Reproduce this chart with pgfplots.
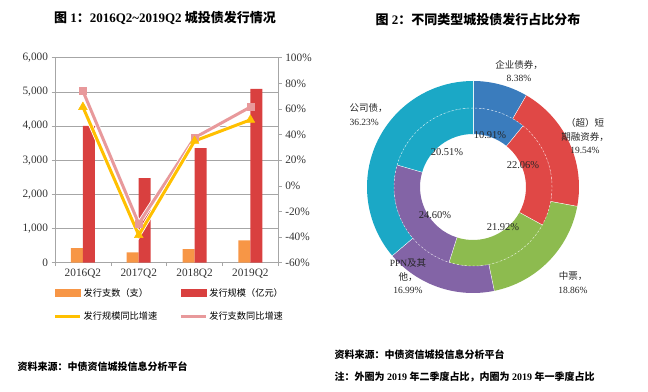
\documentclass[border=0pt]{standalone}
\usepackage{pgfplots}
\pgfplotsset{compat=1.18}
\usepackage{fontspec}
\setmainfont{Liberation Serif}
\newfontfamily\cjk{Noto Sans CJK SC}
\newcommand\zh[1]{{\cjk #1}}
\definecolor{cOrg}{HTML}{F79646}
\definecolor{cRed}{HTML}{D9403F}
\definecolor{cYel}{HTML}{FFC000}
\definecolor{cPnk}{HTML}{E8999B}
\definecolor{dBlu}{HTML}{3A7CBD}
\definecolor{dRed}{HTML}{E04846}
\definecolor{dGrn}{HTML}{8DBB4F}
\definecolor{dPur}{HTML}{8364A6}
\definecolor{dTea}{HTML}{1BA8C6}
\definecolor{axgray}{HTML}{A6A6A6}
\begin{document}
\begin{tikzpicture}[x=1pt,y=1pt]
\useasboundingbox (0pt,0pt) rectangle (648pt,391pt);
% ---------- left chart: bars ----------
\begin{axis}[
  at={(55pt,128.3pt)}, anchor=south west, scale only axis,
  width=223.3pt, height=205pt,
  xmin=-0.5, xmax=3.5, ymin=0, ymax=6000,
  ytick={0,1000,...,6000},
  xtick={-0.5,0.5,1.5,2.5,3.5}, xticklabels={},
  extra x ticks={0,1,2,3},
  extra x tick labels={2016Q2,2017Q2,2018Q2,2019Q2},
  extra x tick style={major tick length=0pt, tick label style={yshift=-3pt}},
  tick align=outside, major tick length=3.5pt,
  ymajorgrids, grid style={axgray, line width=0.6pt},
  axis line style={axgray, line width=0.6pt},
  tick style={axgray, line width=0.6pt},
  axis y line*=left, axis x line*=bottom,
  tick label style={font=\fontsize{11.3}{13}\selectfont, text=black!80},
  y tick label style={/pgf/number format/.cd, 1000 sep={,}, assume math mode=true},
  ybar, bar width=12pt,
]
\addplot[fill=cOrg, draw=none, bar shift=-6pt] coordinates {(0,425) (1,305) (2,400) (3,655)};
\addplot[fill=cRed, draw=none, bar shift=6pt] coordinates {(0,4005) (1,2477) (2,3354) (3,5088)};
\end{axis}
% ---------- left chart: growth lines ----------
\begin{axis}[
  at={(55pt,128.3pt)}, anchor=south west, scale only axis,
  width=223.3pt, height=205pt,
  xmin=-0.5, xmax=3.5, ymin=-60, ymax=100,
  ytick={-60,-40,...,100},
  axis y line*=right, axis x line=none,
  tick align=outside, major tick length=3.5pt,
  axis line style={axgray, line width=0.6pt},
  tick style={axgray, line width=0.6pt},
  tick label style={font=\fontsize{11.3}{13}\selectfont, text=black!80},
  yticklabel={\pgfmathprintnumber[assume math mode=true]{\tick}\%},
  clip=false,
  legend columns=2,
  legend style={at={(-0.02,-0.105)}, anchor=north west, draw=none, fill=none,
    font=\fontsize{9.2}{11}\selectfont, row sep=10pt,
    /tikz/every even column/.append style={column sep=20pt}},
  legend cell align=left,
]
\addlegendimage{legend image code/.code={\fill[cOrg] (0pt,-3.5pt) rectangle (25pt,3.5pt);}}
\addlegendentry{\zh{发行支数（支）}}
\addlegendimage{legend image code/.code={\fill[cRed] (0pt,-3.5pt) rectangle (25pt,3.5pt);}}
\addlegendentry{\zh{发行规模（亿元）}}
\addlegendimage{legend image code/.code={\draw[cYel, line width=3pt] (0pt,0pt) -- (25pt,0pt);}}
\addlegendentry{\zh{发行规模同比增速}}
\addlegendimage{legend image code/.code={\draw[cPnk, line width=3pt] (0pt,0pt) -- (25pt,0pt);}}
\addlegendentry{\zh{发行支数同比增速}}
% pink: 发行支数同比增速
\addplot[forget plot, white, line width=4.6pt] coordinates {(0,74) (1,-29.5) (2,37.5) (3,61.5)};
\addplot[forget plot, cPnk, line width=3pt, mark=square*, mark size=3.6pt, mark options={line width=0.5pt, draw=cPnk, fill=cPnk}]
  coordinates {(0,74) (1,-29.5) (2,37.5) (3,61.5)};
% yellow: 发行规模同比增速
\addplot[forget plot, white, line width=4.6pt] coordinates {(0,61.5) (1,-38.5) (2,35) (3,51.5)};
\addplot[forget plot, cYel, line width=3pt, mark=triangle*, mark size=5pt, mark options={line width=0.5pt, draw=cYel, fill=cYel}]
  coordinates {(0,61.5) (1,-38.5) (2,35) (3,51.5)};
\end{axis}
% ---------- right chart: double donut ----------
\begin{axis}[
  at={(473pt,204pt)}, anchor=center, scale only axis,
  width=240pt, height=240pt,
  xmin=-120, xmax=120, ymin=-120, ymax=120,
  hide axis, clip=false,
]
\pgfplotsextra{
  % outer ring: 2019Q2 (from 12 o'clock, clockwise)
  \xdef\acc{90}
  \foreach \v/\c in {8.38/dBlu,19.54/dRed,18.86/dGrn,16.99/dPur,36.23/dTea}{
    \pgfmathsetmacro\b{\acc-3.6*\v}
    \fill[\c] (axis cs:0,0) ++(\acc:79pt)
      arc[start angle=\acc, end angle=\b, radius=79pt] -- ++(\b:27pt)
      arc[start angle=\b, end angle=\acc, radius=106pt] -- cycle;
    \draw[white, line width=0.4pt] (axis cs:0,0) ++(\acc:79pt) -- ++(\acc:27pt);
    \xdef\acc{\b}
  }
  % inner ring: 2019Q1
  \xdef\acc{90}
  \foreach \v/\c in {10.91/dBlu,22.06/dRed,21.92/dGrn,24.60/dPur,20.51/dTea}{
    \pgfmathsetmacro\b{\acc-3.6*\v}
    \fill[\c] (axis cs:0,0) ++(\acc:53pt)
      arc[start angle=\acc, end angle=\b, radius=53pt] -- ++(\b:26pt)
      arc[start angle=\b, end angle=\acc, radius=79pt] -- cycle;
    \draw[white, line width=0.4pt] (axis cs:0,0) ++(\acc:53pt) -- ++(\acc:26pt);
    \xdef\acc{\b}
  }
  \draw[white, line width=0.5pt, dash pattern=on 2pt off 2pt, opacity=0.7] (axis cs:0,0) circle[radius=79pt];
}
\begin{scope}[every node/.style={align=center, font=\fontsize{9.5}{13.5}\selectfont, text=black!85}]
\node at (axis cs:46,116) {\zh{企业债券，}\\8.38\%};
\node at (axis cs:112,50.5) {\zh{（超）短}\\\zh{期融资券，}\\19.54\%};
\node at (axis cs:100,-95.8) {\zh{中票，}\\18.86\%};
\node at (axis cs:-65,-89.5) {PPN\zh{及其}\\\zh{他，}\\16.99\%};
\node[anchor=west, align=left] at (axis cs:-127,72.5) {\zh{公司债，}\\36.23\%};
\end{scope}
\begin{scope}[every node/.style={font=\fontsize{10.5}{12}\selectfont, text=black!85}]
\node at (axis cs:17,51.5) {10.91\%};
\node at (axis cs:50,21.8) {22.06\%};
\node at (axis cs:30,-39.8) {21.92\%};
\node at (axis cs:-38,-28.5) {24.60\%};
\node at (axis cs:-26,34.5) {20.51\%};
\end{scope}
\end{axis}
% ---------- titles and notes ----------
\node[font=\fontsize{13}{15}\selectfont\bfseries] at (165pt,373pt) {\zh{图} 1\zh{：}2016Q2\textasciitilde 2019Q2 \zh{城投债发行情况}};
\node[font=\fontsize{13}{15}\selectfont\bfseries] at (478pt,371pt) {\zh{图} 2\zh{：不同类型城投债发行占比分布}};
\node[anchor=west, font=\fontsize{10}{12}\selectfont\bfseries] at (14pt,24.3pt) {\zh{资料来源：中债资信城投信息分析平台}};
\node[anchor=west, font=\fontsize{10}{12}\selectfont\bfseries] at (331pt,36pt) {\zh{资料来源：中债资信城投信息分析平台}};
\node[anchor=west, font=\fontsize{10}{12}\selectfont\bfseries] at (331pt,14.3pt) {\zh{注：外圈为} 2019 \zh{年二季度占比，内圈为} 2019 \zh{年一季度占比}};
\end{tikzpicture}
\end{document}
